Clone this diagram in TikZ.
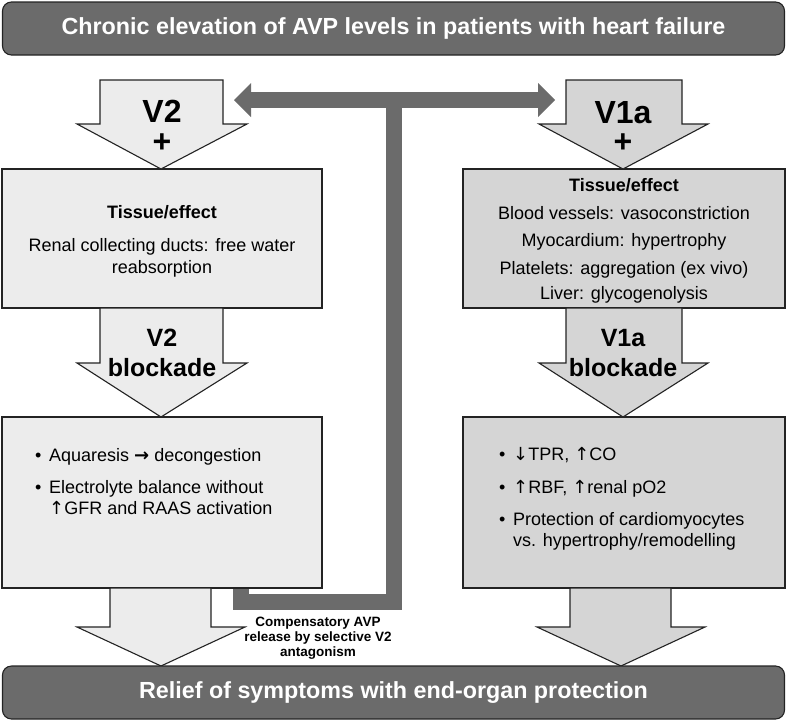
\documentclass[tikz,border=0pt]{standalone}
\usepackage{fontspec}
\setmainfont{Liberation Sans}
\newfontfamily\arrfont{DejaVu Sans}
\newcommand{\upar}{{\arrfont ↑}}
\newcommand{\dnar}{{\arrfont ↓}}
\newcommand{\rtar}{{\arrfont\bfseries →}}
\usetikzlibrary{calc}
\definecolor{dgray}{RGB}{107,107,107}
\definecolor{lgray}{RGB}{236,236,236}
\definecolor{mgray}{RGB}{213,213,213}
\definecolor{edge}{RGB}{35,35,35}
\begin{document}
\begin{tikzpicture}[x=1pt,y=-1pt,
 bord/.style={draw=edge,line width=1.1pt,line join=miter},
 banner/.style={bord,fill=dgray,rounded corners=9pt,minimum width=782pt,minimum height=53pt,text=white,font=\bfseries\fontsize{23.3}{27}\selectfont,inner sep=0pt},
 lbox/.style={bord,fill=lgray,inner sep=0pt},
 rbox/.style={bord,fill=mgray,inner sep=0pt},
 bodytxt/.style={font=\fontsize{18}{22}\selectfont,inner sep=0pt,anchor=base},
 bodyleft/.style={bodytxt,anchor=base west},
 boldtxt/.style={bodytxt,font=\bfseries\fontsize{18}{22}\selectfont},
 bigtxt/.style={font=\bfseries\fontsize{32}{36}\selectfont,inner sep=0pt,anchor=base},
 midtxt/.style={font=\bfseries\fontsize{25}{29}\selectfont,inner sep=0pt,anchor=base},
 conn/.style={draw=dgray,line width=16pt,line join=miter},
 ]
\useasboundingbox (0,0) rectangle (787,721);

% connector (drawn first, partly hidden under the left box)
\coordinate (hook) at (241,575);
\coordinate (cornerA) at (241,601.5);
\coordinate (cornerB) at (394,601.5);
\coordinate (junction) at (394,100);
\coordinate (tipL) at (234,100);
\coordinate (tipR) at (555,100);
\draw[conn] (hook) -- (cornerA) -- (cornerB) -- (junction);
\draw[conn] ($(tipL)+(16,0)$) -- ($(tipR)+(-16,0)$);
\fill[dgray] (tipL) -- ++(17,-17) -- ++(0,34) -- cycle;
\fill[dgray] (tipR) -- ++(-17,-17) -- ++(0,34) -- cycle;

% boxes
\node[lbox,minimum width=320pt,minimum height=139pt] (tl) at (162,238.5) {};
\node[lbox,minimum width=320pt,minimum height=171pt] (bl) at (162,502.5) {};
\node[rbox,minimum width=322pt,minimum height=139pt] (tr) at (624,238.5) {};
\node[rbox,minimum width=322pt,minimum height=171pt] (br) at (624,502.5) {};

% block arrows
\filldraw[bord,fill=lgray] (100,80) -- (223,80) -- (223,124) -- (247,124) -- (161,169) -- (77,124) -- (100,124) -- cycle;
\filldraw[bord,fill=mgray] (566,80) -- (682,80) -- (682,124) -- (708,124) -- (623,169) -- (539,124) -- (566,124) -- cycle;
\filldraw[bord,fill=lgray] (100,308) -- (223,308) -- (223,363) -- (247,363) -- (161,417) -- (77,363) -- (100,363) -- cycle;
\filldraw[bord,fill=mgray] (566,308) -- (682,308) -- (682,363) -- (708,363) -- (623,417) -- (539,363) -- (566,363) -- cycle;
\filldraw[bord,fill=lgray] (110,588) -- (211,588) -- (211,627) -- (245,627) -- (161,666) -- (77,627) -- (110,627) -- cycle;
\filldraw[bord,fill=mgray] (570,588) -- (671,588) -- (671,627) -- (705,627) -- (621,666) -- (537,627) -- (570,627) -- cycle;

% banners
\node[banner] (top) at (393.5,28.5) {Chronic elevation of AVP levels in patients with heart failure};
\node[banner] (bottom) at (393.5,692.5) {Relief of symptoms with end-organ protection};

% arrow labels
\node[bigtxt] (v2) at (162,122) {V2};
\node[bigtxt] (v2plus) at (162,152) {+};
\node[bigtxt] (v1a) at (623,123) {V1a};
\node[bigtxt] (v1aplus) at (623,152) {+};
\node[midtxt] (v2b) at (162,346) {V2};
\node[midtxt] (v2bl) at (162,376) {blockade};
\node[midtxt] (v1ab) at (623,346) {V1a};
\node[midtxt] (v1abl) at (623,376) {blockade};

% left top box text
\node[boldtxt] (tlh) at (162,218) {Tissue/effect};
\node[bodytxt] (tl1) at (162,251) {Renal collecting ducts: free water};
\node[bodytxt] (tl2) at (162,273) {reabsorption};

% right top box text
\node[boldtxt] (trh) at (624,191) {Tissue/effect};
\node[bodytxt] (tr1) at (624,219) {Blood vessels: vasoconstriction};
\node[bodytxt] (tr2) at (624,246) {Myocardium: hypertrophy};
\node[bodytxt] (tr3) at (624,274) {Platelets: aggregation (ex vivo)};
\node[bodytxt] (tr4) at (624,299) {Liver: glycogenolysis};

% left bottom box text
\node[bodyleft] (blb1) at (35,461) {•};
\node[bodyleft] (bl1) at (49,461) {Aquaresis \rtar{} decongestion};
\node[bodyleft] (blb2) at (35,493) {•};
\node[bodyleft] (bl2) at (49,493) {Electrolyte balance without};
\node[bodyleft] (bl3) at (49,514) {\upar{}GFR and RAAS activation};

% right bottom box text
\node[bodyleft] (brb1) at (499,460) {•};
\node[bodyleft] (br1) at (513,460) {\dnar{}TPR, \upar{}CO};
\node[bodyleft] (brb2) at (499,493) {•};
\node[bodyleft] (br2) at (513,493) {\upar{}RBF, \upar{}renal pO2};
\node[bodyleft] (brb3) at (499,525) {•};
\node[bodyleft] (br3) at (513,525) {Protection of cardiomyocytes};
\node[bodyleft] (br4) at (513,546) {vs. hypertrophy/remodelling};

% connector label
\node[font=\bfseries\fontsize{13.5}{15}\selectfont,align=center,inner sep=0pt] (comp) at (318,638) {Compensatory AVP\\release by selective V2\\antagonism};
\end{tikzpicture}
\end{document}
